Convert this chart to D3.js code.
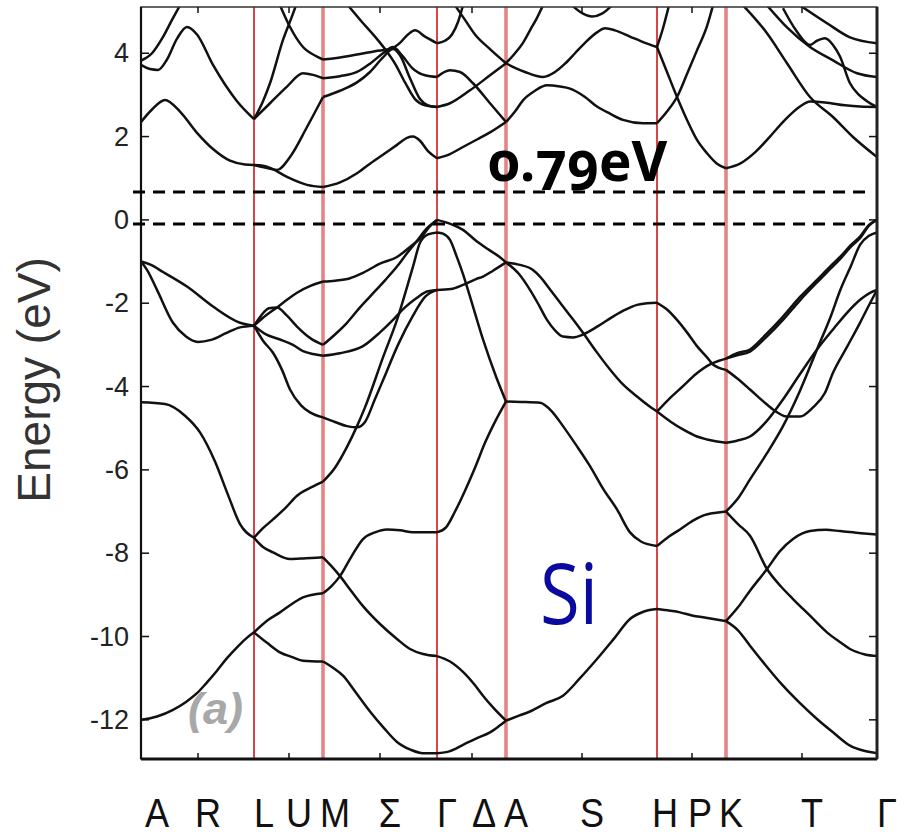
<!DOCTYPE html>
<html><head><meta charset="utf-8">
<script src="https://cdn.jsdelivr.net/npm/d3@7"></script>
<style>html,body{margin:0;padding:0;background:#fff;} svg{display:block;}</style>
</head><body>
<svg id="chart" width="907" height="838"></svg>
<script>
// ---- data ----
const kLabels   = ["A","R","L","U","M","Σ","Γ","Δ","A","S","H","P","K","T","Γ"];
const kLabelPos = [6,57,113,148,184,239,296,333,365,441,514,549,580,661,736];
const symLines  = [113,182,296,365,516,585];
const symThick  = [false,true,false,true,false,true];
const midTicks  = [57,148,239,331,441,551,661];
const yTicks    = [4,2,0,-2,-4,-6,-8,-10,-12];
const gapLevels = [-0.1, 0.67];
const gapLabel  = "0.79eV";
const material  = "Si";
const panel     = "(a)";
const yTitle    = "Energy (eV)";

const valenceBands = [
 [[0,-1.0],[10,-1.08],[22,-1.25],[46,-1.6],[72,-2.08],[99,-2.47],[113,-2.54]],
 [[0,-1.0],[6,-1.2],[16,-1.68],[32,-2.47],[45,-2.8],[57,-2.93],[70,-2.88],[85,-2.72],[99,-2.58],[113,-2.54]],
 [[0,-4.38],[24,-4.42],[44,-4.7],[59,-5.1],[74,-5.8],[87,-6.6],[99,-7.3],[113,-7.63]],
 [[0,-12.0],[16,-11.92],[32,-11.76],[45,-11.57],[56,-11.36],[66,-11.1],[76,-10.82],[86,-10.52],[96,-10.26],[105,-10.05],[113,-9.9]],
 [[113,-2.54],[122,-2.35],[136,-2.1],[147,-1.9],[156,-1.75],[170,-1.58],[182,-1.48]],
 [[113,-2.54],[120,-2.3],[128,-2.12],[136,-2.1],[146,-2.3],[156,-2.56],[170,-2.85],[182,-3.0]],
 [[113,-2.54],[125,-2.75],[139,-2.87],[152,-3.0],[162,-3.15],[172,-3.22],[182,-3.26]],
 [[113,-2.54],[122,-2.9],[132,-3.19],[141,-3.6],[149,-4.07],[160,-4.45],[169,-4.62],[182,-4.74]],
 [[113,-7.63],[122,-7.85],[132,-7.98],[149,-8.14],[165,-8.12],[182,-8.1]],
 [[113,-7.63],[122,-7.4],[132,-7.19],[145,-6.9],[156,-6.62],[170,-6.42],[182,-6.28]],
 [[113,-9.9],[126,-9.62],[139,-9.42],[152,-9.2],[162,-9.06],[182,-8.96]],
 [[113,-9.9],[126,-10.15],[139,-10.38],[152,-10.5],[162,-10.58],[182,-10.6]],
 [[182,-1.48],[194,-1.46],[209,-1.4],[222,-1.27],[239,-1.05],[256,-0.89],[269,-0.65],[279,-0.45],[289,-0.15],[296,0]],
 [[182,-3.0],[194,-2.75],[206,-2.47],[219,-2.1],[229,-1.84],[244,-1.45],[256,-1.12],[266,-0.8],[276,-0.5],[286,-0.2],[296,0]],
 [[182,-3.26],[199,-3.2],[222,-3.03],[239,-2.7],[252,-2.4],[264,-2.1],[276,-1.87],[286,-1.72],[296,-1.68]],
 [[182,-4.74],[194,-4.85],[206,-4.95],[216,-4.98],[224,-4.85],[234,-4.3],[242,-3.85],[257,-3.0],[272,-2.3],[284,-1.85],[296,-1.68]],
 [[182,-6.28],[194,-5.95],[206,-5.45],[216,-4.95],[224,-4.5],[242,-3.3],[256,-2.4],[272,-1.12],[279,-0.55],[287,-0.35],[296,-0.3]],
 [[182,-8.1],[190,-8.3],[199,-8.55],[210,-8.9],[222,-9.27],[239,-9.7],[256,-10.06],[269,-10.3],[282,-10.42],[296,-10.47]],
 [[182,-8.96],[190,-8.8],[199,-8.55],[210,-8.1],[222,-7.66],[234,-7.5],[246,-7.43],[259,-7.45],[272,-7.5],[296,-7.5]],
 [[182,-10.6],[192,-10.75],[202,-10.94],[215,-11.35],[229,-11.8],[243,-12.2],[256,-12.53],[270,-12.72],[282,-12.8],[296,-12.8]],
 [[296,0],[310,-0.1],[322,-0.24],[335,-0.5],[348,-0.72],[358,-0.88],[365,-1.02]],
 [[296,-0.3],[302,-0.33],[309,-0.48],[316,-0.9],[322,-1.3],[329,-1.84],[342,-2.87],[355,-3.76],[365,-4.36]],
 [[296,-1.68],[310,-1.66],[322,-1.56],[335,-1.42],[342,-1.36],[352,-1.22],[365,-1.02]],
 [[296,-7.5],[305,-7.38],[314,-7.0],[324,-6.5],[334,-5.95],[344,-5.35],[355,-4.8],[365,-4.36]],
 [[296,-10.47],[309,-10.6],[322,-10.85],[335,-11.2],[342,-11.42],[352,-11.7],[365,-12.02]],
 [[296,-12.8],[309,-12.75],[322,-12.6],[335,-12.45],[349,-12.3],[358,-12.15],[365,-12.02]],
 [[365,-1.02],[379,-1.08],[392,-1.2],[399,-1.36],[410,-1.7],[422,-2.08],[434,-2.45],[442,-2.71],[455,-3.15],[469,-3.59],[482,-3.95],[496,-4.24],[507,-4.45],[516,-4.6]],
 [[365,-1.02],[378,-1.3],[389,-1.68],[398,-2.05],[406,-2.4],[414,-2.65],[422,-2.8],[432,-2.82],[442,-2.75],[457,-2.55],[472,-2.32],[485,-2.15],[496,-2.04],[506,-2.0],[516,-1.99]],
 [[365,-4.36],[380,-4.37],[399,-4.39],[411,-4.6],[422,-4.95],[435,-5.4],[449,-5.91],[462,-6.45],[476,-6.95],[489,-7.5],[500,-7.72],[516,-7.83]],
 [[365,-12.02],[378,-11.9],[389,-11.8],[405,-11.6],[422,-11.42],[439,-11.0],[456,-10.54],[473,-10.05],[489,-9.58],[503,-9.4],[516,-9.34]],
 [[516,-1.99],[526,-2.15],[536,-2.4],[546,-2.7],[556,-3.03],[566,-3.3],[572,-3.47],[585,-3.6]],
 [[516,-4.6],[528,-4.3],[542,-3.99],[555,-3.7],[569,-3.47],[578,-3.38],[585,-3.33]],
 [[516,-4.6],[530,-4.85],[542,-5.03],[556,-5.2],[566,-5.27],[576,-5.32],[585,-5.35]],
 [[516,-7.83],[528,-7.6],[539,-7.43],[552,-7.22],[562,-7.1],[575,-7.03],[585,-7.0]],
 [[516,-9.34],[529,-9.38],[539,-9.42],[552,-9.5],[562,-9.54],[585,-9.63]],
 [[585,-3.33],[596,-3.2],[609,-3.11],[625,-2.75],[642,-2.32],[659,-1.85],[676,-1.44],[690,-1.1],[699,-0.89],[710,-0.6],[719,-0.4],[728,-0.12],[736,0]],
 [[585,-3.33],[596,-3.25],[609,-3.16],[625,-2.82],[642,-2.4],[659,-1.93],[676,-1.5],[690,-1.16],[699,-0.94],[710,-0.64],[719,-0.44],[728,-0.14],[736,0]],
 [[585,-3.6],[596,-3.8],[609,-4.07],[622,-4.35],[632,-4.55],[646,-4.72],[659,-4.72],[672,-4.5],[684,-4.15],[692,-3.67],[706,-3.05],[719,-2.47],[729,-2.0],[736,-1.68]],
 [[585,-5.35],[596,-5.3],[609,-5.2],[625,-4.85],[642,-4.31],[659,-3.7],[676,-3.11],[693,-2.6],[706,-2.23],[720,-1.9],[729,-1.75],[736,-1.68]],
 [[585,-7.0],[598,-6.65],[609,-6.23],[626,-5.6],[642,-4.95],[659,-4.1],[676,-3.11],[690,-2.3],[699,-1.7],[710,-1.1],[719,-0.6],[728,-0.38],[736,-0.3]],
 [[585,-7.0],[597,-7.3],[609,-7.58],[626,-8.38],[640,-8.8],[652,-9.1],[669,-9.5],[686,-9.9],[700,-10.15],[709,-10.3],[724,-10.43],[736,-10.47]],
 [[585,-9.63],[597,-9.3],[609,-8.9],[626,-8.38],[639,-7.95],[652,-7.66],[669,-7.47],[685,-7.44],[699,-7.47],[720,-7.52],[736,-7.55]],
 [[585,-9.63],[597,-9.85],[609,-10.22],[625,-10.7],[642,-11.18],[659,-11.6],[676,-11.98],[692,-12.3],[709,-12.62],[724,-12.75],[736,-12.8]]
];

const conductionBands = [
 [[0,2.35],[11,2.65],[24,2.88],[39,2.6],[56,2.09],[72,1.7],[89,1.42],[104,1.33],[113,1.32]],
 [[0,3.72],[9,3.62],[17,3.6],[26,3.85],[36,4.35],[46,4.63],[56,4.45],[72,3.72],[84,3.25],[96,2.85],[113,2.42]],
 [[0,3.82],[11,4.0],[21,4.35],[31,4.8],[39,5.15]],
 [[113,1.32],[122,1.3],[129,1.25],[146,1.03],[166,0.84],[182,0.79]],
 [[113,1.32],[125,1.25],[136,1.2],[149,1.51],[166,2.23],[182,2.95]],
 [[113,2.42],[129,2.8],[146,3.2],[162,3.52],[172,3.48],[182,3.4]],
 [[113,2.42],[122,2.85],[129,3.28],[142,4.32],[152,4.95],[155,5.15]],
 [[139,5.15],[149,4.63],[162,4.15],[176,3.92],[182,3.85]],
 [[182,0.79],[199,0.9],[216,1.12],[229,1.35],[244,1.6],[256,1.8],[266,1.97],[272,2.0],[279,1.9],[287,1.65],[296,1.48]],
 [[182,2.95],[199,3.1],[216,3.3],[229,3.55],[242,3.9],[252,4.1],[259,3.95],[269,3.4],[279,2.9],[287,2.75],[296,2.71]],
 [[182,3.4],[199,3.45],[216,3.55],[229,3.75],[242,4.0],[252,4.15],[261,3.95],[271,3.65],[284,3.47],[296,3.43]],
 [[182,3.85],[199,3.9],[219,3.98],[234,4.05],[249,4.1],[259,4.25],[267,4.45],[274,4.55],[284,4.4],[296,4.24]],
 [[207,5.15],[221,4.75],[234,4.4],[244,4.1],[254,3.75],[264,3.3],[274,2.9],[284,2.75],[296,2.71]],
 [[296,1.48],[309,1.58],[322,1.75],[336,1.93],[349,2.1],[365,2.35]],
 [[296,3.43],[309,3.59],[319,3.55],[332,3.28],[349,2.8],[365,2.35]],
 [[296,2.71],[309,2.8],[329,3.11],[349,3.47],[365,3.76]],
 [[296,4.24],[304,4.3],[311,4.45],[317,4.75],[322,5.15]],
 [[314,5.15],[324,4.8],[334,4.45],[349,4.1],[365,3.76]],
 [[365,2.35],[374,2.6],[382,2.87],[394,3.1],[406,3.23],[419,3.2],[429,3.15],[444,2.95],[456,2.72],[469,2.55],[482,2.4],[502,2.32],[516,2.32]],
 [[365,3.76],[374,3.65],[384,3.55],[402,3.43],[414,3.55],[424,3.75],[434,4.0],[444,4.25],[456,4.5],[464,4.6],[474,4.55],[489,4.4],[504,4.25],[516,4.15]],
 [[365,3.76],[374,4.0],[382,4.25],[389,4.55],[396,4.85],[402,5.15]],
 [[431,5.15],[442,4.95],[451,4.88],[461,4.95],[471,5.15]],
 [[516,4.15],[526,3.55],[536,2.95],[546,2.4],[556,1.92],[566,1.6],[576,1.35],[585,1.24]],
 [[516,2.32],[526,2.6],[536,2.95],[546,3.5],[556,4.07],[566,4.65],[572,5.15]],
 [[516,4.15],[522,4.6],[528,5.15]],
 [[585,1.24],[599,1.35],[614,1.62],[629,2.0],[644,2.4],[659,2.72],[669,2.84],[684,2.82],[704,2.75],[719,2.72],[736,2.71]],
 [[602,5.15],[626,4.48],[646,3.76],[669,2.95],[692,2.47],[712,1.99],[736,1.51]],
 [[626,5.15],[646,4.62],[669,4.15],[692,3.83],[716,3.52],[736,3.43]],
 [[642,5.08],[655,4.55],[669,4.2],[676,4.3],[684,4.36],[692,4.2],[699,3.92],[709,3.28],[718,3.0],[726,2.85],[736,2.71]],
 [[659,5.15],[686,4.72],[709,4.38],[736,4.24]]
];

// ---- layout ----
const plot = {left:141, right:877, top:7, bottom:759};
const svg = d3.select("#chart");

const x = d3.scaleLinear().domain([0,736]).range([plot.left, plot.right]);
const y = d3.scaleLinear().domain([-12.94, 5.11]).range([plot.bottom, plot.top]);

svg.append("defs").append("clipPath").attr("id","clip")
  .append("rect").attr("x",plot.left).attr("y",plot.top)
  .attr("width",plot.right-plot.left).attr("height",plot.bottom-plot.top);

// red high-symmetry lines
svg.append("g").selectAll("line").data(symLines).join("line")
  .attr("x1",d=>x(d)).attr("x2",d=>x(d))
  .attr("y1",plot.top).attr("y2",plot.bottom)
  .attr("stroke",(d,i)=>symThick[i]?"#e07070":"#d83a3a")
  .attr("stroke-width",(d,i)=>symThick[i]?3.6:2)
  .attr("opacity",(d,i)=>symThick[i]?0.85:0.95);

// bands
const line = d3.line().x(d=>x(d[0])).y(d=>y(d[1])).curve(d3.curveMonotoneX);
const gB = svg.append("g").attr("clip-path","url(#clip)");
gB.selectAll("path.v").data(valenceBands).join("path").attr("class","v")
  .attr("d",line).attr("fill","none").attr("stroke","#111").attr("stroke-width",2.5)
  .attr("stroke-linejoin","round");
gB.selectAll("path.c").data(conductionBands).join("path").attr("class","c")
  .attr("d",line).attr("fill","none").attr("stroke","#111").attr("stroke-width",2.5)
  .attr("stroke-linejoin","round");

// frame
svg.append("rect").attr("x",plot.left).attr("y",plot.top)
  .attr("width",plot.right-plot.left).attr("height",plot.bottom-plot.top)
  .attr("fill","none").attr("stroke","#333").attr("stroke-width",1.5);
svg.append("line").attr("x1",plot.left).attr("x2",plot.right).attr("y1",plot.bottom).attr("y2",plot.bottom)
  .attr("stroke","#111").attr("stroke-width",3);
svg.append("line").attr("x1",plot.left).attr("x2",plot.left).attr("y1",plot.top).attr("y2",plot.bottom)
  .attr("stroke","#111").attr("stroke-width",2.2);
svg.append("line").attr("x1",plot.right).attr("x2",plot.right).attr("y1",plot.top).attr("y2",plot.bottom)
  .attr("stroke","#222").attr("stroke-width",3);

// y axis labels and inward ticks
const yAxis = d3.axisLeft(y).tickValues(yTicks).tickSize(0).tickPadding(12)
  .tickFormat(d => d < 0 ? "-" + Math.abs(d) : String(d));
const gy = svg.append("g").attr("transform",`translate(${plot.left},0)`).call(yAxis);
gy.select(".domain").remove();
gy.selectAll("text").attr("font-family","'Liberation Sans', Arial, sans-serif")
  .attr("font-size",27).attr("fill","#222");
svg.append("g").selectAll("line").data(yTicks).join("line")
  .attr("x1",plot.left).attr("x2",plot.left+8).attr("y1",d=>y(d)).attr("y2",d=>y(d))
  .attr("stroke","#111").attr("stroke-width",1.5);
svg.append("g").selectAll("line").data(yTicks).join("line")
  .attr("x1",plot.right-8).attr("x2",plot.right).attr("y1",d=>y(d)).attr("y2",d=>y(d))
  .attr("stroke","#111").attr("stroke-width",1.5);
// x mid ticks top & bottom
svg.append("g").selectAll("line").data(midTicks).join("line")
  .attr("x1",d=>x(d)).attr("x2",d=>x(d)).attr("y1",plot.bottom).attr("y2",plot.bottom-6)
  .attr("stroke","#111").attr("stroke-width",1.5);
svg.append("g").selectAll("line").data(midTicks).join("line")
  .attr("x1",d=>x(d)).attr("x2",d=>x(d)).attr("y1",plot.top).attr("y2",plot.top+6)
  .attr("stroke","#111").attr("stroke-width",1.5);

// x labels
svg.append("g").selectAll("text").data(kLabels).join("text")
  .attr("transform",(d,i)=>`translate(${x(kLabelPos[i])+10},827) scale(0.88,1)`)
  .attr("text-anchor","middle")
  .attr("font-family","'Liberation Sans', Arial, sans-serif").attr("font-size",41)
  .attr("fill","#111").text(d=>d);

// y title
svg.append("text").attr("transform","translate(50,380) rotate(-90)")
  .attr("text-anchor","middle")
  .attr("font-family","'Liberation Sans', Arial, sans-serif").attr("font-size",46)
  .attr("fill","#333").text(yTitle);

// dashed gap lines
svg.append("g").selectAll("line").data(gapLevels).join("line")
  .attr("x1",plot.left-8).attr("x2",plot.right-11)
  .attr("y1",d=>y(d)).attr("y2",d=>y(d))
  .attr("stroke","#000").attr("stroke-width",3).attr("stroke-dasharray","12,8");

// annotations
svg.append("text").attr("x",x(347)).attr("y",y(gapLevels[1])-11)
  .attr("font-family","'Open Sans', sans-serif").attr("font-weight","bold")
  .attr("font-size",55).style("font-variant-numeric","oldstyle-nums")
  .style("font-feature-settings","'onum' 1")
  .attr("fill","#000").text(gapLabel);

svg.append("text").attr("x",x(399)).attr("y",y(-9.7))
  .attr("font-family","'Open Sans', sans-serif")
  .attr("font-size",84).attr("fill","#0a0a9e")
  .attr("textLength",58).attr("lengthAdjust","spacingAndGlyphs").text(material);

svg.append("text").attr("x",x(47)).attr("y",y(-12.1))
  .attr("font-family","'Liberation Sans', Arial, sans-serif").attr("font-weight","bold")
  .attr("font-style","italic").attr("font-size",45).attr("fill","#a8a8a8").text(panel);
</script>
</body></html>
